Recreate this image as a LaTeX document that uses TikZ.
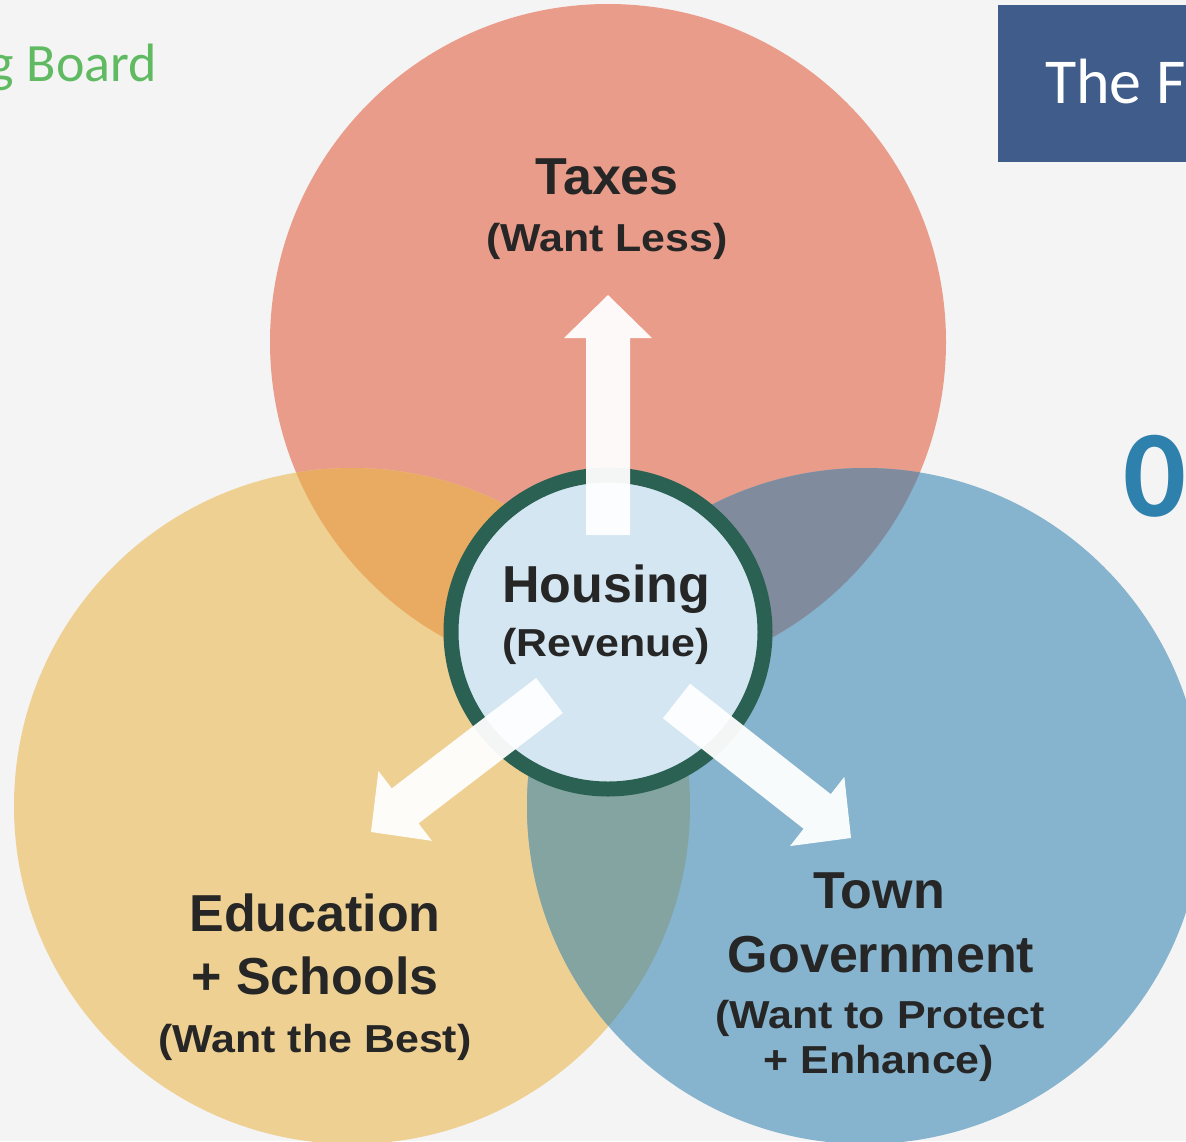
\documentclass[tikz,border=0pt]{standalone}
\usepackage{fontspec}
\setmainfont{Liberation Sans}
\newfontfamily\labelfont{Liberation Sans}
\newfontfamily\notefont[FakeStretch=1.1]{Liberation Sans}
\newfontfamily\slidefont{Carlito}
\usetikzlibrary{calc}

\definecolor{pagebg}{RGB}{244,244,244}
\definecolor{taxred}{RGB}{234,156,138}
\definecolor{eduyellow}{RGB}{238,208,146}
\definecolor{govblue}{RGB}{134,179,205}
\definecolor{mixRY}{RGB}{233,170,98}
\definecolor{mixRB}{RGB}{128,140,157}
\definecolor{mixYB}{RGB}{131,164,161}
\definecolor{hubfill}{RGB}{211,230,241}
\definecolor{hubring}{RGB}{43,97,83}
\definecolor{labelink}{RGB}{38,38,38}
\definecolor{boardgreen}{RGB}{96,186,98}
\definecolor{titlebox}{RGB}{64,92,138}
\definecolor{digitblue}{RGB}{46,128,173}

\tikzset{
  bigtext/.style={text=labelink, inner sep=0pt, anchor=base,
    font=\labelfont\bfseries\fontsize{52}{60}\selectfont},
  smalltext/.style={text=labelink, inner sep=0pt, anchor=base,
    font=\notefont\bfseries\fontsize{39}{46}\selectfont},
  flow/.style={fill=white, fill opacity=0.95},
}

% block arrow from tail coordinate #1 to tip coordinate #2
\newcommand{\flowarrow}[2]{%
  \coordinate (#1-sb) at ($(#2)!43pt!(#1)$);
  \fill[flow] ($(#1)!22pt!90:(#2)$) -- ($(#1-sb)!22pt!90:(#2)$)
    -- ($(#1-sb)!44pt!90:(#2)$) -- (#2)
    -- ($(#1-sb)!44pt!-90:(#2)$) -- ($(#1-sb)!22pt!-90:(#2)$)
    -- ($(#1)!22pt!-90:(#2)$) -- cycle;
}

\begin{document}
\begin{tikzpicture}[x=1pt, y=-1pt]
  \useasboundingbox (0,0) rectangle (1186,1141);
  \fill[pagebg] (0,0) rectangle (1186,1141);

  % slide furniture
  \node[anchor=base east, inner sep=0pt, text=boardgreen,
        font=\slidefont\fontsize{54}{60}\selectfont] (boardLabel) at (157,81) {g Board};
  \fill[titlebox] (998,5) rectangle (1200,162);
  \node[anchor=base west, inner sep=0pt, text=white,
        font=\slidefont\fontsize{64}{70}\selectfont] (titleLabel) at (1045,103) {The F};
  \node[anchor=base, inner sep=0pt, text=digitblue,
        font=\slidefont\bfseries\fontsize{124}{130}\selectfont] (digitLabel) at (1155,516) {0};

  % the three interest circles
  \coordinate (ctax) at (608,342);
  \coordinate (cedu) at (352,806);
  \coordinate (cgov) at (865,806);
  \fill[taxred]    (ctax) circle[radius=338pt];
  \fill[eduyellow] (cedu) circle[radius=338pt];
  \fill[govblue]   (cgov) circle[radius=338pt];
  \begin{scope}
    \clip (ctax) circle[radius=338pt];
    \fill[mixRY] (cedu) circle[radius=338pt];
    \fill[mixRB] (cgov) circle[radius=338pt];
  \end{scope}
  \begin{scope}
    \clip (cedu) circle[radius=338pt];
    \fill[mixYB] (cgov) circle[radius=338pt];
  \end{scope}

  % central hub
  \coordinate (hub) at (608,632);
  \filldraw[fill=hubfill, draw=hubring, line width=15pt] (hub) circle[radius=157pt];

  % arrows out of the hub
  \coordinate (upTail) at (608,535);
  \coordinate (upTip) at (608,295);
  \coordinate (leftTail) at (549.5,695.5);
  \coordinate (leftTip) at (371,832);
  \coordinate (rightTail) at (676.5,701);
  \coordinate (rightTip) at (851,838);
  \flowarrow{upTail}{upTip}
  \flowarrow{leftTail}{leftTip}
  \flowarrow{rightTail}{rightTip}

  % labels
  \node[bigtext]   (taxesA)   at (607,194)  {Taxes};
  \node[smalltext] (taxesB)   at (607,251)  {(Want Less)};
  \node[bigtext]   (housingA) at (606,602)  {Housing};
  \node[smalltext] (housingB) at (606,656)  {(Revenue)};
  \node[bigtext]   (eduA)     at (315,931)  {Education};
  \node[bigtext]   (eduB)     at (315,994)  {+ Schools};
  \node[smalltext] (eduC)     at (315,1052) {(Want the Best)};
  \node[bigtext]   (govA)     at (879,908)  {Town};
  \node[bigtext]   (govB)     at (881,972)  {Government};
  \node[smalltext] (govC)     at (880,1028) {(Want to Protect};
  \node[smalltext] (govD)     at (879,1073) {+ Enhance)};
\end{tikzpicture}
\end{document}
